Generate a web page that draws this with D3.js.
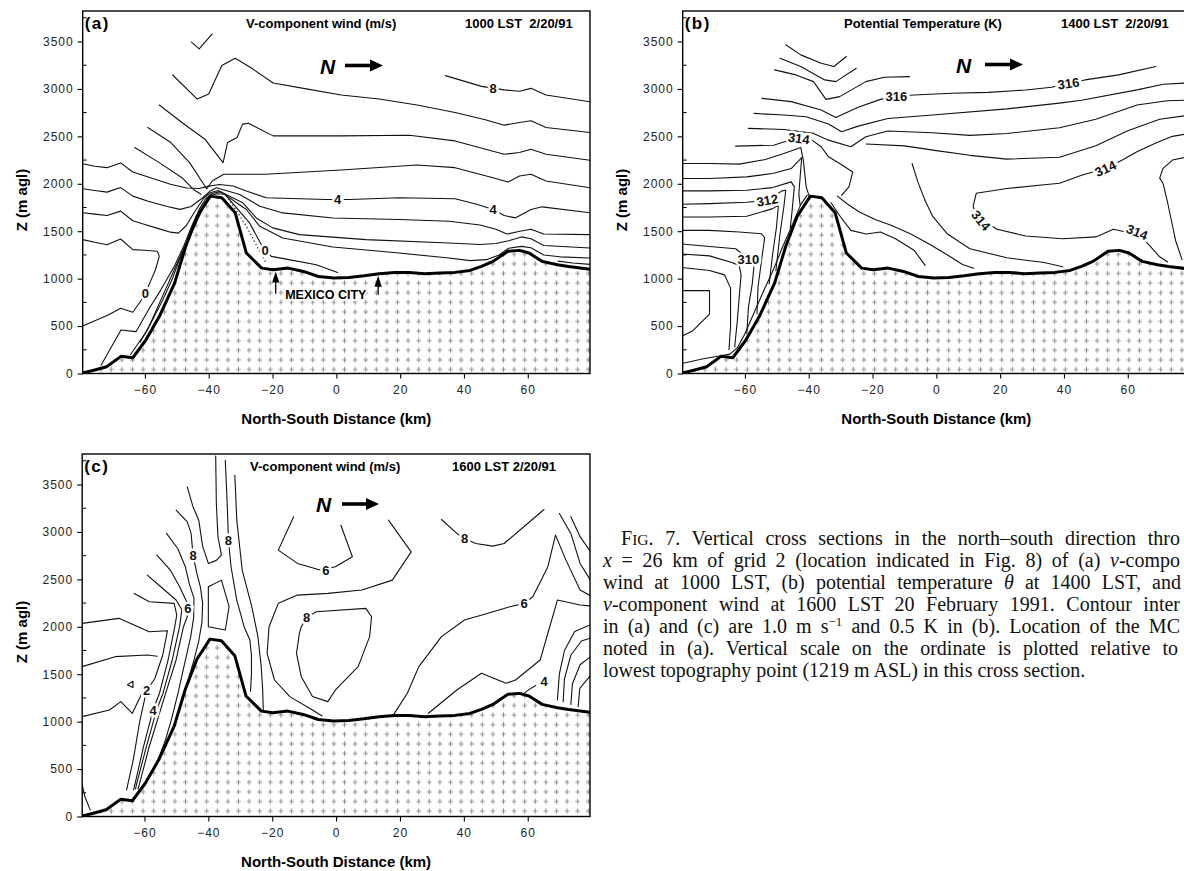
<!DOCTYPE html>
<html>
<head>
<meta charset="utf-8">
<script src="https://cdn.jsdelivr.net/npm/d3@7/dist/d3.min.js"></script>
<style>
html,body{margin:0;padding:0;background:#fff;}
svg{display:block;}
</style>
</head>
<body>
<svg id="fig" width="1184" height="871" xmlns="http://www.w3.org/2000/svg"></svg>
<script>
// ---------------- DATA ----------------
const xDomain = [-79.5, 79.5];            // km
const xTicks = [-60, -40, -20, 0, 20, 40, 60];
const yTicks = [0, 500, 1000, 1500, 2000, 2500, 3000, 3500];

// topography (km, m agl)
const terrainKm = [-79.5,-76,-72,-67.4,-63.8,-59.7,-55.5,-50.7,-47.2,-43.6,-39.5,-35.9,-31.7,-28.2,-23.4,-19.8,-15.1,-10.3,-5.6,-0.8,3.9,8.7,13.4,18.2,22.9,27.7,32.4,37.2,41.9,45.5,49.1,53.8,57.4,60.4,64.5,69.3,72.8,79.5];
const terrainZ  = [5,35,71,183,166,353,600,953,1341,1658,1870,1852,1694,1270,1111,1094,1111,1076,1023,1006,1013,1030,1052,1066,1066,1052,1059,1066,1087,1129,1182,1288,1298,1270,1182,1147,1129,1100];

// ---- panel (a): v-component wind 1000 LST ----
const a_check = [[-45.4,3493],[-43.0,3423],[-38.9,3581]];
const a_c8 = [[34.2,3140],[45.5,3027],[52.6,2990],[57.4,2975],[61.0,3006],[65.7,2936],[79.5,2865]];
const a_c7 = [[-51.3,3147],[-43.6,2893],[-40.0,2946],[-35.9,3246],[-31.7,3324],[-27.0,3229],[-19.8,3063],[-10.3,3006],[1.5,2936],[13.4,2893],[25.3,2830],[37.2,2752],[46.7,2675],[52.6,2618],[57.4,2646],[61.0,2664],[65.7,2594],[79.5,2541]];
const a_c6 = [[-55.5,2830],[-48.4,2646],[-41.2,2470],[-35.5,2223],[-34.1,2435],[-31.1,2488],[-29.4,2629],[-27.6,2639],[-19.8,2505],[1.5,2505],[22.9,2512],[37.2,2452],[52.6,2311],[57.4,2329],[61.0,2364],[65.7,2311],[79.5,2248]];
const a_c5 = [[-59.1,2594],[-51.9,2435],[-46.0,2223],[-41.2,1976],[-40.6,1948],[-38.9,2029],[-35.3,2100],[-22.2,2100],[1.5,2145],[25.3,2198],[37.2,2170],[49.1,2064],[53.8,2018],[57.4,2082],[61,2100],[65.7,2029],[79.5,1958]];
const a_fan = [[-63.2,2382],[-55.5,2223],[-48.4,2064],[-44.8,1940],[-42.4,1890]];
const a_c4 = [[-79.5,2212],[-75.7,2185],[-71.9,2170],[-67.6,2220],[-63.8,2124],[-58,2060],[-52,1995],[-47,1955],[-43,1950],[-40,1975],[-38.1,1985],[-36.6,1993],[-32.4,1976],[-28.2,1923],[-22,1852],[-3.2,1835],[4.1,1835],[19.7,1852],[37.2,1842],[44.3,1782],[49.1,1729],[52.6,1665],[56.2,1641],[61,1729],[64.5,1757],[79.5,1694]];
const a_c3 = [[-79.5,1948],[-75.7,1930],[-71.9,1912],[-67.6,1960],[-63.8,1870],[-59,1815],[-53,1760],[-49,1730],[-45.5,1760],[-42,1850],[-39.5,1925],[-37.6,1958],[-30.3,1887],[-24,1764],[-16.8,1693],[-1.1,1640],[19.7,1623],[35.3,1605],[45,1565],[50,1520],[53.5,1470],[57.5,1500],[61,1520],[65,1470],[79.5,1464]];
const a_c2 = [[-79.5,1694],[-75.7,1680],[-71.9,1665],[-67.6,1712],[-63.8,1610],[-60,1570],[-56,1530],[-52,1490],[-49.5,1480],[-47,1560],[-44.5,1700],[-41.5,1850],[-39.5,1905],[-37.1,1930],[-29.3,1799],[-25.1,1640],[-19.9,1535],[-11.6,1464],[9.3,1411],[35.3,1376],[45,1360],[50,1370],[54,1400],[58,1440],[61,1420],[65,1350],[79.5,1323]];
const a_c1 = [[-73.75,88],[-67.5,458],[-62.8,441],[-58.6,688],[-55,882],[-50.8,1129],[-48,1330],[-45.5,1540],[-43,1730],[-41,1840],[-39,1895],[-37,1915],[-36,1910],[-28.2,1729],[-24,1552],[-16.8,1429],[-1.1,1333],[19.7,1270],[35.3,1217],[42,1190],[47,1200],[51,1250],[54,1320],[58,1340],[61,1325],[65,1250],[70,1230],[79.5,1217]];
const a_c0 = [[-64.5,200],[-59.2,458],[-55,776],[-50.8,1094],[-48,1300],[-45.5,1490],[-43,1680],[-41,1810],[-39,1880],[-37.5,1895],[-35,1890],[-27.2,1588],[-23.5,1358],[-20.4,1235],[-15.7,1206],[-6.3,1146],[0.4,1065]];
const a_s3 = [[-61.5,330],[-58,540],[-54.5,770],[-51.5,990],[-48.5,1260],[-45.5,1470],[-43,1655],[-41,1795],[-39.3,1875]];
const a_zeroU = [[-79.5,1411],[-75.7,1383],[-71.9,1358],[-67.6,1418],[-63.8,1306],[-60.2,1299],[-56.1,1288],[-55.5,1235],[-56.7,1094],[-58.5,953],[-59.9,847],[-61.4,759],[-63.8,646],[-67.6,688],[-71.5,617],[-75.7,557],[-79.5,501]];
const a_small = [[69.5,1185],[74,1165],[79.5,1150]];
const a_dot = [[-34.5,1880],[-28.2,1552],[-24.6,1323],[-22,1164]];
const a_labelText = ['8','4','4','0','0'];
const a_labelKm   = [49.1, 0.4, 49.1, -59.9, -22.3];
const a_labelZ    = [3009, 1835, 1729, 847, 1300];
const mexicoCityKm = [-19.0, 13.1];
const mexicoCityTail = [840, 830];

// ---- panel (b): potential temperature 1400 LST ----
const b_t1 = [[-47.2,3465],[-42.5,3359],[-36.1,3271],[-32.1,3236],[-28.2,3342]];
const b_t2 = [[-49.0,3324],[-42.5,3236],[-35.0,3095],[-31.5,3077],[-25.1,3218]];
const b_t3 = [[-50.7,3201],[-44,3148],[-38.5,3077],[-34.6,2890],[-30.3,2919],[-22.1,3077],[-16.3,3123],[-8.4,3130]];
const b_316 = [[-54.8,2901],[-45.5,2866],[-36.1,2778],[-31.5,2700],[-24.5,2806],[-17.5,2890],[-12.8,2926],[-7,2936],[4.7,2954],[16.3,2964],[28,2989],[36.1,3017],[41.4,3060],[46.6,3095],[57.1,3148],[68.8,3236]];
const b_t5 = [[-57.1,2742],[-47.8,2725],[-40.8,2707],[-33.8,2630],[-29.7,2548],[-24.5,2608],[-15.2,2689],[-1.2,2725],[22.1,2790],[38.6,2850],[45.5,2880],[62.9,2990],[71.1,3050],[79.5,3065]];
const b_t6 = [[-58.9,2584],[-47.8,2573],[-38.5,2531],[-33.8,2460],[-26.8,2390],[-22.1,2496],[-15.2,2556],[-1.2,2538],[10.5,2510],[22.1,2530],[38.6,2590],[50,2680],[62.9,2830],[72.3,2875],[79.5,2883]];
const b_314a = [[-62.9,2397],[-51,2407],[-47.8,2440],[-43.1,2478],[-39,2460],[-36.1,2390],[-33.8,2284],[-30.3,2214],[-26.2,2125],[-27.4,1967],[-29.7,1879]];
const b_t8 = [[-22,2420],[-10,2400],[0,2350],[10.5,2300],[22.1,2260],[38.6,2280],[50,2400],[60,2560],[70,2680],[79.5,2725]];
const b_314b = [[79.5,2532],[74,2500],[68.8,2430],[63,2340],[58.3,2250],[53,2161],[45.5,2090],[38.6,2005],[33.8,1990],[22.1,1950],[12.5,1900],[11.5,1760],[13,1650],[19,1520],[28,1450],[39.6,1420],[50,1440],[55.5,1520],[59.4,1491],[63,1470],[66,1380],[70,1230],[72.5,1175]];
const b_314c = [[79.5,2290],[74,2250],[71,2160],[70,2060],[71.1,2000],[72.5,1800],[75,1400],[77,1200]];
const b_m1 = [[-7.6,2214],[-5.8,2020],[-3.5,1820],[-1.2,1660],[3.5,1470],[10.5,1315],[22.1,1220],[33.8,1170],[39.6,1125]];
const b_m2 = [[-33,1800],[-30,1650],[-26.8,1509],[-22,1470],[-17.5,1491],[-12.8,1420],[-7,1300],[-3.5,1140]];
const b_m3 = [[-31,1870],[-28,1790],[-24,1700],[-19,1620],[-14,1560],[-8,1470],[-2,1360],[3.5,1250],[8.2,1150],[11.7,1110]];
const b_L1 = [[-80.5,2214],[-71.1,2214],[-61.8,2207],[-53.6,2256],[-47.8,2319],[-42.5,2383],[-41.7,2249],[-40.8,1967],[-39.9,1875]];
const b_L2 = [[-80.5,2055],[-71.1,2055],[-59.4,2073],[-51.3,2108],[-45.5,2161],[-42.2,2277],[-42.6,2108],[-43.1,1896],[-42.7,1775]];
const b_L3 = [[-80.5,1925],[-71.1,1925],[-59.4,1932],[-51.3,1960],[-45.5,2020],[-44.5,1967],[-45.3,1685],[-45.8,1530]];
const b_312 = [[-80.5,1784],[-71.1,1791],[-59.4,1805],[-53.0,1826],[-48.4,1925],[-47.2,1932],[-47.8,1755],[-49,1473],[-50.3,1080]];
const b_L5 = [[-80.5,1650],[-71.1,1650],[-59.4,1657],[-51.3,1738],[-49.5,1773],[-50.1,1544],[-51.3,1262],[-52.4,945]];
const b_L6 = [[-80.5,1509],[-71.1,1509],[-61.8,1491],[-54.8,1473],[-53.8,1431],[-54.8,1191],[-55.9,909],[-56.2,627]];
const b_310 = [[-80.5,1368],[-71.1,1339],[-62.9,1315],[-58.9,1209],[-57.1,1156],[-57.7,945],[-58.9,698],[-59.4,420]];
const b_L8 = [[-80.5,1262],[-71.1,1240],[-64.1,1170],[-61.8,1140],[-61.2,1040],[-61.8,800],[-62.4,550],[-63.2,280]];
const b_L9 = [[-80.5,1121],[-71.1,1086],[-66.4,1040],[-64.5,900],[-64.5,500],[-65,250]];
const b_U = [[-80.5,874],[-71.1,874],[-71.1,627],[-76.3,451],[-80.5,381]];
const b_bot = [[-80.5,99],[-73.4,152],[-67.6,187],[-64.7,204],[-62.4,270],[-60,420],[-57,650],[-54,880],[-51,1100],[-48,1350],[-45,1580],[-42.5,1780],[-40.5,1880]];
const b_labelText = ['316','316','314','312','310','314','314','314'];
const b_labelKm   = [-12.5, 41.4, -43.1, -53.0, -58.9, 53.0, 14.0, 62.9];
const b_labelZ    = [2926, 3060, 2478, 1826, 1209, 2161, 1614, 1491];
const b_labelRot  = [0, -8, 8, -10, 0, -25, 50, 22];

// ---- panel (c): v-component wind 1600 LST ----
const c_A = [[-79.5,2036],[-68,2089],[-58.5,1948],[-52.8,1959],[-54.3,1700],[-56.8,1450],[-59.3,1334],[-61.5,1000],[-63.5,600],[-65.6,280]];
const c_B = [[-79.5,1580],[-69.2,1685],[-59.1,1702],[-56,1690]];
const c_C = [[-79.5,1053],[-71,1123],[-67.4,1211],[-63.8,1088],[-61.5,1250],[-60.8,1300]];
const c_tri = [[-65.3,1390],[-63.6,1425],[-63.6,1360],[-65.3,1390]];
const c_4 = [[-63.2,2352],[-58.5,2264],[-50.7,2247],[-49.9,2124],[-50.5,2001],[-52.6,1650],[-55.3,1300],[-57.3,1123],[-60.3,737],[-62.9,352],[-63.4,280]];
const c_5 = [[-59.1,2545],[-54.9,2422],[-50.1,2282],[-48.3,2180],[-49,2001],[-51.3,1650],[-54.2,1300],[-56.2,1123],[-59.4,737],[-62.4,352],[-62.8,290]];
const c_6 = [[-56.1,2755],[-51.9,2598],[-49,2422],[-46.6,2250],[-46.6,2106],[-47.8,2001],[-50.1,1650],[-53.7,1264],[-58.5,738],[-61.5,352],[-62,290]];
const c_7 = [[-53.1,2984],[-49.6,2825],[-47.2,2633],[-46,2457],[-44.5,2300],[-44.6,2100],[-45.5,1900],[-47.5,1600],[-49.5,1300],[-51.5,1030],[-53.5,800],[-55.5,620]];
const c_8a = [[-50.1,3229],[-46.6,3106],[-45.4,2984],[-44.8,2755],[-43.6,2562],[-42.5,2420],[-41.8,2250],[-42,2050],[-43,1850],[-44.5,1650],[-46.5,1420],[-48.5,1230]];
const c_loop = [[-40,2422],[-35.9,2492],[-33.5,2212],[-34.7,1966],[-40,2001],[-40,2422]];
const c_8b = [[-46.6,3475],[-44.8,3264],[-43,3124],[-41.8,2850],[-40,2668],[-37.5,2700],[-35.9,2755],[-37,2950],[-37.5,3300],[-37.7,3800]];
const c_8c = [[-34.7,3756],[-34.1,3299],[-33.7,2913],[-32.9,2633],[-31.1,2282],[-28.8,2001],[-27,1861],[-26.5,1700],[-26.5,1500],[-26.8,1320]];
const c_8d = [[-31.7,3598],[-31.1,3124],[-29.4,2598],[-26.4,2212],[-24.5,1900],[-23.5,1600],[-23,1350],[-22.8,1120]];
const c_6top = [[-13.3,3159],[-18.1,2808],[-12.1,2668],[-5.0,2598],[-0.2,2633],[5.1,2738],[1.5,3071]];
const c_m2 = [[16.4,3124],[23.5,2790],[17.6,2492],[8.1,2387],[-2.6,2352],[-12.1,2334],[-18.1,2247],[-21,2001],[-21.6,1720],[-19.3,1439],[-14.5,1264],[-7.4,1123],[-4.4,1060]];
const c_8mid = [[-10.9,2001],[-9.2,2099],[-6.2,2159],[9.3,2194],[11.1,2106],[10.5,1896],[6.9,1580],[-0.2,1334],[-2.6,1211],[-7.4,1264],[-10.9,1474],[-12.4,1720],[-11.5,1931],[-10.9,2001]];
const c_r8 = [[33,3131],[37.8,2984],[40.2,2931],[43.7,2878],[49.1,2850],[52.6,2878],[65.1,3236]];
const c_r6 = [[17.6,1053],[22.3,1299],[25.9,1580],[33,1896],[40.2,2071],[47.3,2141],[54.4,2212],[58.9,2247],[61.6,2317],[66.3,2633],[68.7,2966],[72,2700],[76.4,2387],[79.5,2330]];
const c_r5 = [[28.9,1088],[37.8,1334],[45.5,1510],[53.2,1404],[56.2,1439],[63.9,1650],[69.3,2282],[76.4,2229],[79.5,2220]];
const c_r4 = [[58.5,1290],[60.5,1340],[62.5,1380]];
const c_fr1 = [[69.3,1229],[69.9,1500],[71.5,1750],[74.7,1950],[79.5,2020]];
const c_fr2 = [[71.1,1210],[71.5,1450],[73.5,1700],[76.8,1850],[79.5,1880]];
const c_fr3 = [[73.5,1180],[74,1400],[76.4,1600],[79.5,1680]];
const c_fr4 = [[75.8,1160],[76.3,1350],[79.5,1480]];
const c_tr1 = [[69.9,3194],[73.5,2984],[76.4,2668],[79.5,2500]];
const c_tr2 = [[73.5,3159],[76.4,2950],[79.5,2800]];
const c_corner = [[-79.5,334],[-78.7,214],[-77,70]];
const c_labelText = ['8','8','6','2','4','6','8','8','6','4'];
const c_labelKm   = [-44.8,-33.7,-46.4,-59.3,-57.3,-3.2,-9.2,40.2,58.9,65.1];
const c_labelZ    = [2755, 2913, 2190, 1334, 1123, 2598, 2099, 2931, 2247, 1422];

// caption lines (segments: text, style) and where each justified line ends
const captionLines = [
  [['F',''],['IG','sc'],['. 7. Vertical cross sections in the north\u2013south direction thro','']],
  [['x','i'],[' = 26 km of grid 2 (location indicated in Fig. 8) of (a) ',''],['v','i'],['-compo','']],
  [['wind at 1000 LST, (b) potential temperature ',''],['\u03b8','i'],[' at 1400 LST, and','']],
  [['v','i'],['-component wind at 1600 LST 20 February 1991. Contour inter','']],
  [['in (a) and (c) are 1.0 m s',''],['\u22121','sup'],[' and 0.5 K in (b). Location of the MC','']],
  [['noted in (a). Vertical scale on the ordinate is plotted relative to','']],
  [['lowest topography point (1219 m ASL) in this cross section.','']]
];
const captionLineEnd = [1180, 1180, 1181, 1180, 1180, 1178, null];

// ---------------- DRAWING ----------------
const SANS = '"Liberation Sans", Arial, Helvetica, sans-serif';
const SERIF = '"Liberation Serif", "Times New Roman", serif';
const svg = d3.select('#fig');
svg.append('rect').attr('width',1184).attr('height',871).attr('fill','#fff');
const defs = svg.append('defs');

const pat = defs.append('pattern').attr('id','stip').attr('patternUnits','userSpaceOnUse')
  .attr('width',10.6).attr('height',9.6);
pat.append('path').attr('d','M5.3,2.3V7.3M2.9,4.8H7.7')
  .attr('stroke','#8a8a8a').attr('stroke-width',0.9).attr('fill','none');
pat.append('path').attr('d','M4.4,3.2L5.3,2.3L6.2,3.2')
  .attr('stroke','#9a9a9a').attr('stroke-width',0.7).attr('fill','none');

const terrain = terrainKm.map((k,i)=>[k, terrainZ[i]]);

const panels = [
  { key:'a', left:82.7, right:590, top:11, base:373.5, y3500:41.5,
    contours:[a_check,a_c8,a_c7,a_c6,a_c5,a_fan,a_c4,a_c3,a_c2,a_c1,a_c0,a_s3,a_zeroU,a_small],
    dotted:[a_dot],
    labels:a_labelText.map((t,i)=>({t, k:a_labelKm[i], z:a_labelZ[i], r:0})),
    letter:'(a)', title:'V-component wind (m/s)', titleX:246, time:'1000 LST\u00a0\u00a02/20/91', timeX:465,
    nX:320, nBase:73.5, arrX1:345, arrX2:383, arrY:65.5, yLabelX:27, yLabelY:200 },
  { key:'b', left:682.7, right:1190, top:11, base:373.5, y3500:41.5,
    contours:[b_t1,b_t2,b_t3,b_316,b_t5,b_t6,b_314a,b_t8,b_314b,b_314c,b_m1,b_m2,b_m3,b_L1,b_L2,b_L3,b_312,b_L5,b_L6,b_310,b_L8,b_L9,b_U,b_bot],
    dotted:[],
    labels:b_labelText.map((t,i)=>({t, k:b_labelKm[i], z:b_labelZ[i], r:b_labelRot[i]})),
    letter:'(b)', title:'Potential Temperature (K)', titleX:844, time:'1400 LST\u00a0\u00a02/20/91', timeX:1061,
    nX:956, nBase:72.5, arrX1:985, arrX2:1023, arrY:64.5, yLabelX:627, yLabelY:200 },
  { key:'c', left:82.2, right:590, top:454, base:816.5, y3500:484.5,
    contours:[c_A,c_B,c_C,c_tri,c_4,c_5,c_6,c_7,c_8a,c_loop,c_8b,c_8c,c_8d,c_6top,c_m2,c_8mid,c_r8,c_r6,c_r5,c_r4,c_fr1,c_fr2,c_fr3,c_fr4,c_tr1,c_tr2,c_corner],
    dotted:[],
    labels:c_labelText.map((t,i)=>({t, k:c_labelKm[i], z:c_labelZ[i], r:0})),
    letter:'(c)', title:'V-component wind (m/s)', titleX:250, time:'1600 LST 2/20/91', timeX:452,
    nX:316, nBase:511.5, arrX1:342, arrX2:379, arrY:504, yLabelX:27, yLabelY:632 }
];

function drawPanel(P) {
  const g = svg.append('g').attr('id','panel-'+P.key);
  const x = d3.scaleLinear().domain(xDomain).range([P.left, P.right]);
  const y = d3.scaleLinear().domain([0, 3500]).range([P.base, P.y3500]);
  const clipId = 'clip-' + P.key;
  defs.append('clipPath').attr('id', clipId).append('rect')
    .attr('x', P.left).attr('y', P.top).attr('width', P.right - P.left).attr('height', P.base - P.top);
  const plot = g.append('g').attr('clip-path', `url(#${clipId})`);
  const line = d3.line().x(d => x(d[0])).y(d => y(d[1]));
  const area = d3.area().x(d => x(d[0])).y0(y(0)).y1(d => y(d[1]));

  plot.append('path').datum(terrain).attr('d', area).attr('fill', 'url(#stip)');

  plot.selectAll('path.cont').data(P.contours).join('path').attr('class','cont')
    .attr('d', line).attr('fill','none').attr('stroke','#111').attr('stroke-width',1.1)
    .attr('stroke-linejoin','round').attr('stroke-linecap','round');
  plot.selectAll('path.dot').data(P.dotted).join('path').attr('class','dot')
    .attr('d', line).attr('fill','none').attr('stroke','#111').attr('stroke-width',1.2)
    .attr('stroke-dasharray','1.2 2.6');

  plot.append('path').datum(terrain).attr('d', line).attr('fill','none')
    .attr('stroke','#000').attr('stroke-width',3).attr('stroke-linejoin','round');

  // contour labels
  plot.selectAll('text.cl').data(P.labels).join('text').attr('class','cl')
    .attr('transform', d => `translate(${x(d.k)},${y(d.z)}) rotate(${d.r})`)
    .attr('text-anchor','middle').attr('dy','0.36em')
    .attr('font-family', SANS).attr('font-weight','bold').attr('font-size', 13)
    .attr('fill','#111').attr('stroke','#fff').attr('stroke-width',5)
    .attr('paint-order','stroke').text(d => d.t);

  if (P.key === 'a') {
    const terrAt = k => d3.scaleLinear().domain(terrainKm).range(terrainZ)(k);
    mexicoCityKm.forEach((k, i) => {
      const tipY = y(terrAt(k)) + 2;
      plot.append('line').attr('x1', x(k)).attr('x2', x(k)).attr('y1', y(mexicoCityTail[i]))
        .attr('y2', tipY + 8).attr('stroke','#000').attr('stroke-width',1.3);
      plot.append('path').attr('d', `M${x(k)},${tipY} L${x(k)-3.6},${tipY+11} L${x(k)+3.6},${tipY+11}Z`).attr('fill','#000');
    });
    plot.append('text').attr('x', x(-3.3)).attr('y', y(785)).attr('text-anchor','middle')
      .attr('font-family', SANS).attr('font-weight','bold').attr('font-size', 12.5)
      .attr('fill','#000').attr('stroke','#fff').attr('stroke-width',3).attr('paint-order','stroke')
      .text('MEXICO CITY');
  }

  // minor y ticks (inward)
  const minor = d3.range(250, 3751, 500);
  g.selectAll('line.mt').data(minor).join('line').attr('class','mt')
    .attr('x1', P.left).attr('x2', P.left + 4).attr('y1', d => y(d)).attr('y2', d => y(d))
    .attr('stroke','#000').attr('stroke-width',1);

  // frame
  g.append('rect').attr('x', P.left).attr('y', P.top).attr('width', P.right - P.left)
    .attr('height', P.base - P.top).attr('fill','none').attr('stroke','#000').attr('stroke-width',1.4);

  // axes
  const ax = g.append('g').attr('transform', `translate(0,${P.base})`)
    .call(d3.axisBottom(x).tickValues(xTicks).tickSize(5).tickPadding(7));
  const ay = g.append('g').attr('transform', `translate(${P.left},0)`)
    .call(d3.axisLeft(y).tickValues(yTicks).tickFormat(d3.format('d')).tickSize(5).tickPadding(4));
  [ax, ay].forEach(a => {
    a.select('.domain').remove();
    a.selectAll('line').attr('stroke','#000').attr('stroke-width',1.1);
    a.selectAll('text').attr('font-family', SANS).attr('font-size', 12)
      .attr('letter-spacing', 1).attr('fill','#222');
  });

  // titles
  g.append('text').attr('x', P.left + 2).attr('y', P.top + 17.5).attr('font-family', SANS)
    .attr('font-weight','bold').attr('font-size', 17).attr('letter-spacing', 1.5).text(P.letter);
  g.append('text').attr('x', P.titleX).attr('y', P.top + 17).attr('font-family', SANS)
    .attr('font-weight','bold').attr('font-size', 13).text(P.title);
  g.append('text').attr('x', P.timeX).attr('y', P.top + 17).attr('font-family', SANS)
    .attr('font-weight','bold').attr('font-size', 13).text(P.time);

  // N arrow
  g.append('text').attr('x', P.nX).attr('y', P.nBase).attr('font-family', SANS)
    .attr('font-weight','bold').attr('font-style','italic').attr('font-size', 21).text('N');
  g.append('line').attr('x1', P.arrX1).attr('x2', P.arrX2 - 10).attr('y1', P.arrY).attr('y2', P.arrY)
    .attr('stroke','#000').attr('stroke-width',3.6);
  g.append('path').attr('d', `M${P.arrX2-13},${P.arrY-6} L${P.arrX2},${P.arrY} L${P.arrX2-13},${P.arrY+6}Z`).attr('fill','#000');

  // axis titles
  g.append('text').attr('transform', `translate(${P.yLabelX},${P.yLabelY}) rotate(-90)`)
    .attr('text-anchor','middle').attr('font-family', SANS).attr('font-weight','bold')
    .attr('font-size', 15).text('Z (m agl)');
  g.append('text').attr('x', x(0)).attr('y', P.base + 50).attr('text-anchor','middle')
    .attr('font-family', SANS).attr('font-weight','bold').attr('font-size', 15)
    .text('North-South Distance (km)');
}

panels.forEach(drawPanel);

// caption (justified lines, last line ragged)
const capX = 603, capY0 = 545, capDy = 22, capSize = 20;
const cap = svg.append('g').attr('font-family', SERIF).attr('font-size', capSize).attr('fill','#111');
captionLines.forEach((segs, i) => {
  const x0 = i === 0 ? capX + 18 : capX;
  const t = cap.append('text').attr('x', x0).attr('y', capY0 + i * capDy);
  let raised = false;
  segs.forEach(([s, st]) => {
    const ts = t.append('tspan').text(s);
    if (st === 'i') ts.attr('font-style','italic');
    if (st === 'sc') ts.attr('font-size', capSize * 0.78);
    if (st === 'sup') { ts.attr('font-size', capSize * 0.65).attr('dy', -7); raised = true; }
    else if (raised) { ts.attr('dy', 7); raised = false; }
  });
  const end = captionLineEnd[i];
  if (end) {
    const w = t.node().getComputedTextLength();
    const full = segs.map(s => s[0]).join('');
    const nSpaces = (full.match(/ /g) || []).length;
    if (nSpaces > 0) t.attr('word-spacing', Math.max(0, (end - x0 - w) / nSpaces));
  }
});
</script>
</body>
</html>
